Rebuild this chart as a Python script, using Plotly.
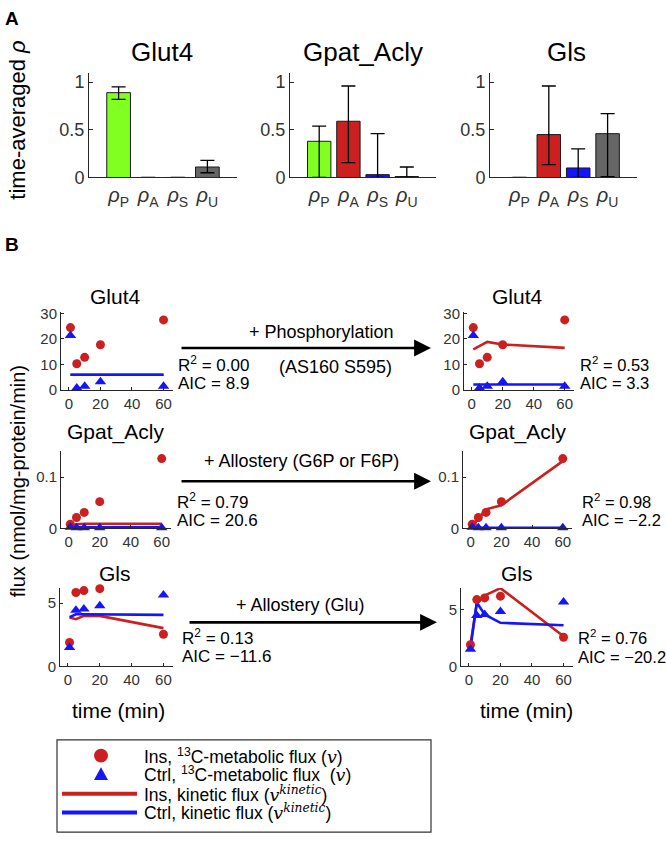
import plotly.graph_objects as go

W, H = 666, 844
FONT = "Liberation Sans, Arial, Helvetica, sans-serif"
RED = "#CC1F1F"
BLUE = "#1414FF"
GREEN = "#80FF20"
GRAY = "#666666"
AX = "#262626"
TXT = "#333333"

# ---------------- Panel A data ----------------
rho_pos = [1, 2, 3, 4]
rho_ticktext = ["<i>ρ</i><sub>P</sub>", "<i>ρ</i><sub>A</sub>", "<i>ρ</i><sub>S</sub>", "<i>ρ</i><sub>U</sub>"]
rho_colors = [GREEN, RED, BLUE, GRAY]

glut4_rho = [0.89, 0.0, 0.0, 0.11]
glut4_upper = [0.95, 0.0, 0.0, 0.18]
glut4_lower = [0.82, 0.0, 0.0, 0.05]

gpat_rho = [0.38, 0.59, 0.03, 0.01]
gpat_upper = [0.54, 0.96, 0.46, 0.11]
gpat_lower = [0.0, 0.155, 0.0, 0.0]

gls_rho = [0.0, 0.45, 0.10, 0.46]
gls_upper = [0.0, 0.96, 0.30, 0.67]
gls_lower = [0.0, 0.135, 0.0, 0.01]

# ---------------- Panel B data ----------------
time_min = [1, 5, 10, 20, 60]

glut4_ins = [24.4, 10.3, 12.8, 17.7, 27.4]
glut4_ctrl = [21.3, 0.8, 1.5, 3.3, 1.5]
glut4_kin_ins_before = [6.0, 6.0, 6.0, 6.0, 6.0]
glut4_kin_ctrl_before = [6.0, 6.0, 6.0, 6.0, 6.0]
glut4_kin_ins_after = [15.9, 17.3, 18.8, 17.8, 16.5]
glut4_kin_ctrl_after = [2.2, 2.2, 2.2, 2.2, 2.2]

gpat_ins = [0.008, 0.021, 0.031, 0.052, 0.136]
gpat_ctrl = [0.002, 0.001, 0.001, 0.001, 0.001]
gpat_kin_ins_before = [0.006, 0.008, 0.009, 0.009, 0.009]
gpat_kin_ctrl_before = [0.002, 0.002, 0.002, 0.002, 0.002]
gpat_kin_ins_after = [0.004, 0.019, 0.037, 0.045, 0.131]
gpat_kin_ctrl_after = [0.001, 0.001, 0.001, 0.001, 0.001]

gls_ins = [1.9, 5.85, 6.0, 6.15, 2.55]
gls_ctrl = [1.5, 4.45, 4.55, 4.8, 5.65]
gls_kin_ins_before = [3.87, 3.74, 4.0, 4.0, 3.03]
gls_kin_ctrl_before = [3.9, 4.13, 4.13, 4.13, 4.08]
gls_kin_ins_after = [1.9, 5.5, 6.2, 6.85, 2.65]
gls_kin_ctrl_after = [1.6, 5.6, 4.55, 3.82, 3.6]

fit_stats_before = [("0.00", "8.9"), ("0.79", "20.6"), ("0.13", "−11.6")]
fit_stats_after = [("0.53", "3.3"), ("0.98", "−2.2"), ("0.76", "−20.2")]
interventions = ["+ Phosphorylation", "+ Allostery (G6P or F6P)", "+ Allostery (Glu)"]
enzymes = ["Glut4", "Gpat_Acly", "Gls"]


def dx(a, b):
    return [a / W, b / W]


def dy(top, bot):
    return [1 - bot / H, 1 - top / H]


def px(x):
    return x / W


def py(y):
    return 1 - y / H


fig = go.Figure()
layout = dict(
    width=W, height=H, margin=dict(l=0, r=0, t=0, b=0),
    paper_bgcolor="white", plot_bgcolor="white", showlegend=False,
    font=dict(family=FONT, color=TXT),
)

# ---------------- Panel A ----------------
a_dom_x = [(89, 237), (290, 436), (490, 637)]
a_dom_y = (67, 174)
a_sets = [(glut4_rho, glut4_upper, glut4_lower), (gpat_rho, gpat_upper, gpat_lower), (gls_rho, gls_upper, gls_lower)]
for i, (rho, up, lo) in enumerate(a_sets):
    n = i + 1
    xa = "x" if n == 1 else f"x{n}"
    ya = "y" if n == 1 else f"y{n}"
    fig.add_trace(go.Bar(
        x=rho_pos, y=rho, width=0.8, xaxis=xa, yaxis=ya,
        marker=dict(color=rho_colors, line=dict(color="#1a1a1a", width=1)),
        error_y=dict(type="data", symmetric=False,
                     array=[u - r for u, r in zip(up, rho)],
                     arrayminus=[r - l for r, l in zip(rho, lo)],
                     color="black", thickness=1.3, width=7),
    ))
    kx = "xaxis" if n == 1 else f"xaxis{n}"
    ky = "yaxis" if n == 1 else f"yaxis{n}"
    layout[kx] = dict(domain=dx(*a_dom_x[i]), range=[0, 5], anchor=ya,
                      tickvals=rho_pos, ticktext=rho_ticktext, ticks="",
                      showline=True, linecolor=AX, linewidth=1, showgrid=False,
                      zeroline=False, tickfont=dict(size=20, color=TXT, family=FONT),
                      fixedrange=True)
    layout[ky] = dict(domain=dy(*a_dom_y), range=[0, 1.1], anchor=xa,
                      tickvals=[0, 0.5, 1], ticktext=["0", "0.5", "1"],
                      ticks="inside", ticklen=4, tickcolor=AX,
                      showline=True, linecolor=AX, linewidth=1, showgrid=False,
                      zeroline=False, tickfont=dict(size=18, color=TXT, family=FONT),
                      fixedrange=True)

# ---------------- Panel B ----------------
b_left_x = [(61, 173), (61, 171), (60, 173)]
b_right_x = [(464, 574), (463, 572), (461, 573)]
b_y = [(311, 391), (453, 532), (593, 673)]
b_yranges = [[0, 30.6], [0, 0.151], [0, 6.2]]
b_yranges_r = [[0, 30.6], [0, 0.151], [0, 6.86]]
b_yticks = [([0, 10, 20, 30], ["0", "10", "20", "30"]),
            ([0, 0.1], ["0", "0.1"]),
            ([0, 5], ["0", "5"])]

data_sets = [
    (glut4_ins, glut4_ctrl, glut4_kin_ins_before, glut4_kin_ctrl_before, glut4_kin_ins_after, glut4_kin_ctrl_after),
    (gpat_ins, gpat_ctrl, gpat_kin_ins_before, gpat_kin_ctrl_before, gpat_kin_ins_after, gpat_kin_ctrl_after),
    (gls_ins, gls_ctrl, gls_kin_ins_before, gls_kin_ctrl_before, gls_kin_ins_after, gls_kin_ctrl_after),
]

axn = 4
for r, ds in enumerate(data_sets):
    ins, ctrl, kib, kcb, kia, kca = ds
    for side in range(2):
        xa = f"x{axn}"
        ya = f"y{axn}"
        kin_i, kin_c = (kib, kcb) if side == 0 else (kia, kca)
        fig.add_trace(go.Scatter(x=time_min, y=kin_i, mode="lines", xaxis=xa, yaxis=ya,
                                 line=dict(color=RED, width=2.6), cliponaxis=False))
        fig.add_trace(go.Scatter(x=time_min, y=kin_c, mode="lines", xaxis=xa, yaxis=ya,
                                 line=dict(color=BLUE, width=2.6), cliponaxis=False))
        fig.add_trace(go.Scatter(x=time_min, y=ins, mode="markers", xaxis=xa, yaxis=ya,
                                 marker=dict(color=RED, size=9, symbol="circle"), cliponaxis=False))
        fig.add_trace(go.Scatter(x=time_min, y=ctrl, mode="markers", xaxis=xa, yaxis=ya,
                                 marker=dict(color=BLUE, size=10, symbol="triangle-up"), cliponaxis=False))
        dom_x = b_left_x[r] if side == 0 else b_right_x[r]
        yr = b_yranges[r] if side == 0 else b_yranges_r[r]
        layout[f"xaxis{axn}"] = dict(domain=dx(*dom_x), range=[-5, 66], anchor=ya,
                                     tickvals=[0, 20, 40, 60], ticks="inside", ticklen=3,
                                     tickcolor=AX, showline=True, linecolor=AX, linewidth=1,
                                     showgrid=False, zeroline=False,
                                     tickfont=dict(size=15, color=TXT, family=FONT), fixedrange=True)
        layout[f"yaxis{axn}"] = dict(domain=dy(*b_y[r]), range=yr, anchor=xa,
                                     tickvals=b_yticks[r][0], ticktext=b_yticks[r][1],
                                     ticks="inside", ticklen=3, tickcolor=AX,
                                     showline=True, linecolor=AX, linewidth=1,
                                     showgrid=False, zeroline=False,
                                     tickfont=dict(size=15, color=TXT, family=FONT), fixedrange=True)
        axn += 1

ann = []


def text(x, y, s, size, xanchor="center", yanchor="middle", angle=0, color="black", family=FONT):
    ann.append(dict(x=px(x), y=py(y), xref="paper", yref="paper", text=s, showarrow=False,
                    xanchor=xanchor, yanchor=yanchor, textangle=angle,
                    font=dict(size=size, color=color, family=family)))


# panel labels
text(3, 12, "<b>A</b>", 19, xanchor="left")
text(3, 242, "<b>B</b>", 19, xanchor="left")

# panel A titles and label
for name, cx in zip(enzymes, [162, 363, 566]):
    text(cx, 46, name, 26)
text(18, 116, "time-averaged <i>ρ</i>", 22, angle=-90, color="black")

# panel B titles
b_title_y = [295, 434, 578]
for r, name in enumerate(enzymes):
    text(115, b_title_y[r], name, 21)
    text(517, b_title_y[r], name, 21)

# arrows and intervention labels
arrow_y = [348, 484, 628]
label_y = [332, 463, 610]
label_x = [321, 301, 300]
left_stat_x = [176, 175, 180]
right_stat_x = [578, 580, 576]
stat_y = [(364, 384), (504, 524), (643, 663)]
arrow_x0 = [180, 180, 188]
arrow_x1 = [431, 431, 437]
for r in range(3):
    ann.append(dict(x=px(arrow_x1[r]), y=py(arrow_y[r]), xref="paper", yref="paper",
                    ax=-(arrow_x1[r] - arrow_x0[r]), ay=0, axref="pixel", ayref="pixel",
                    text="", showarrow=True, arrowhead=2, arrowsize=1.3, arrowwidth=2.6,
                    arrowcolor="black", standoff=0, startstandoff=0))
    text(label_x[r], label_y[r], interventions[r], 18)
    text(left_stat_x[r], stat_y[r][0], f"R<sup>2</sup> = {fit_stats_before[r][0]}", 17, xanchor="left")
    text(left_stat_x[r], stat_y[r][1], f"AIC = {fit_stats_before[r][1]}", 17, xanchor="left")
    text(right_stat_x[r], stat_y[r][0], f"R<sup>2</sup> = {fit_stats_after[r][0]}", 16.5, xanchor="left")
    text(right_stat_x[r], stat_y[r][1], f"AIC = {fit_stats_after[r][1]}", 16.5, xanchor="left")
text(336, 367, "(AS160 S595)", 18)

# axis labels panel B
text(118, 718, "time (min)", 21)
text(526, 718, "time (min)", 21)
text(18, 484, "flux (nmol/mg-protein/min)", 20, angle=-90)

# legend
SERIF = "DejaVu Serif, Liberation Serif, serif"
vi = f'<span style="font-family:{SERIF}"><i>v</i></span>'
vk = f'<span style="font-family:{SERIF}"><i>v<sup>kinetic</sup></i></span>'
leg_texts = [f"Ins, <sup>13</sup>C-metabolic flux ({vi})",
             f"Ctrl, <sup>13</sup>C-metabolic flux  ({vi})",
             f"Ins, kinetic flux ({vk})",
             f"Ctrl, kinetic flux ({vk})"]
leg_y = [764, 783, 803, 822]
for t, yy in zip(leg_texts, leg_y):
    text(142, yy, t, 17.5, xanchor="left")

shapes = []
shapes.append(dict(type="rect", xref="paper", yref="paper", x0=px(57), x1=px(431), y0=py(842), y1=py(748),
                   line=dict(color="#333333", width=1.2), fillcolor="rgba(0,0,0,0)"))
shapes.append(dict(type="circle", xref="paper", yref="paper", x0=px(94), x1=px(108), y0=py(771), y1=py(757),
                   line=dict(color=RED, width=0), fillcolor=RED))
shapes.append(dict(type="path", xref="paper", yref="paper",
                   path=f"M{px(94)},{py(789)} L{px(108)},{py(789)} L{px(101)},{py(776)} Z",
                   line=dict(color=BLUE, width=0), fillcolor=BLUE))
shapes.append(dict(type="line", xref="paper", yref="paper", x0=px(62), x1=px(137), y0=py(803), y1=py(803),
                   line=dict(color=RED, width=4)))
shapes.append(dict(type="line", xref="paper", yref="paper", x0=px(62), x1=px(137), y0=py(822), y1=py(822),
                   line=dict(color=BLUE, width=4)))

layout["annotations"] = ann
layout["shapes"] = shapes
fig.update_layout(**layout)
fig.write_html("out.html", config={"displayModeBar": False, "staticPlot": True},
               post_script="document.body.style.margin='0px';document.body.style.padding='0px';")
